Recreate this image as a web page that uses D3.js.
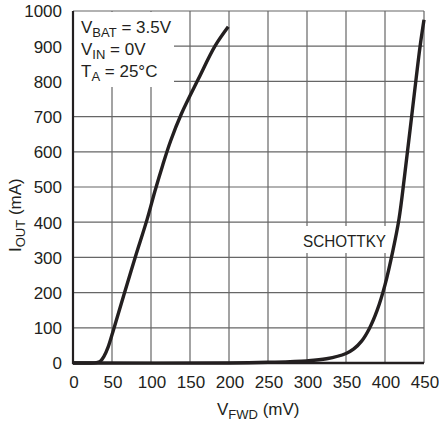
<!DOCTYPE html>
<html><head><meta charset="utf-8">
<script src="https://cdn.jsdelivr.net/npm/d3@7"></script>
<style>body{margin:0;background:#fff}svg{display:block}text{font-family:"Liberation Sans",Arial,sans-serif;fill:#231f20}</style>
</head><body><div id="chart"></div>
<script>
const xTicks = [0,50,100,150,200,250,300,350,400,450];
const yTicks = [0,100,200,300,400,500,600,700,800,900,1000];
// standard curve: [VFWD mV, IOUT mA]
const mainCurve = [[0,0],[20,0],[30,1],[35,5],[40,20],[45,45],[50,80],[55,117],[65,192],[80,302],[95,408],[105,488],[115,562],[125,630],[139,708],[161,808],[182,900],[199,955]];
// schottky curve
const schottky = [[0,0],[200,0],[250,2],[300,6],[325,12],[350,27],[360,40],[370,62],[380,98],[390,150],[400,222],[410,318],[418,410],[425,530],[432,660],[440,810],[445,900],[450,975]];
const condLines = ["V|BAT| = 3.5V","V|IN| = 0V","T|A| = 25°C"];

const W=439,H=425, m={l:73,r:15,t:11,b:62};
const svg=d3.select("#chart").append("svg").attr("width",W).attr("height",H);
const x=d3.scaleLinear().domain([0,450]).range([m.l,W-m.r]);
const y=d3.scaleLinear().domain([0,1000]).range([H-m.b,m.t]);
const fs=17;

// grid
svg.append("g").selectAll("line").data(xTicks).join("line")
  .attr("x1",d=>x(d)).attr("x2",d=>x(d)).attr("y1",y(0)).attr("y2",y(1000))
  .attr("stroke","#666").attr("stroke-width",1.2);
svg.append("g").selectAll("line").data(yTicks).join("line")
  .attr("y1",d=>y(d)).attr("y2",d=>y(d)).attr("x1",x(0)).attr("x2",x(450))
  .attr("stroke","#666").attr("stroke-width",1.2);

// annotation boxes (white)
svg.append("rect").attr("x",x(0)+1).attr("y",y(1000)+1).attr("width",100).attr("height",75).attr("fill","#fff");
svg.append("rect").attr("x",300).attr("y",226).attr("width",90).attr("height",27).attr("fill","#fff");

// axes
svg.append("line").attr("x1",x(0)).attr("x2",x(0)).attr("y1",y(0)+1).attr("y2",y(1000)).attr("stroke","#231f20").attr("stroke-width",2.2);
svg.append("line").attr("x1",x(0)-1).attr("x2",x(450)).attr("y1",y(0)).attr("y2",y(0)).attr("stroke","#231f20").attr("stroke-width",2.6);

// tick labels
svg.append("g").selectAll("text").data(yTicks).join("text")
  .attr("x",x(0)-11).attr("y",d=>y(d)).attr("dy","0.38em").attr("text-anchor","end")
  .attr("font-size",fs).text(d=>d);
svg.append("g").selectAll("text").data(xTicks).join("text")
  .attr("x",d=>x(d)+1).attr("y",y(0)+25).attr("text-anchor","middle")
  .attr("font-size",fs).text(d=>d);

// curves
const line=d3.line().x(d=>x(d[0])).y(d=>y(d[1])).curve(d3.curveCatmullRom.alpha(0.5));
[mainCurve,schottky].forEach(c=>svg.append("path").attr("d",line(c)).attr("fill","none")
  .attr("stroke","#231f20").attr("stroke-width",3.4).attr("stroke-linejoin","round"));

// condition text
condLines.forEach((s,i)=>{
  const p=s.split("|");
  const t=svg.append("text").attr("x",81).attr("y",33+i*21.8).attr("font-size",fs);
  t.append("tspan").text(p[0]);
  t.append("tspan").attr("dy",4).attr("font-size",13).text(p[1]);
  t.append("tspan").attr("dy",-4).text(p[2]);
});

svg.append("text").attr("x",303).attr("y",247).attr("font-size",fs)
  .attr("textLength",83).attr("lengthAdjust","spacingAndGlyphs").text("SCHOTTKY");

// axis titles
const xt=svg.append("text").attr("x",217).attr("y",415).attr("font-size",fs);
xt.append("tspan").text("V");
xt.append("tspan").attr("dy",4).attr("font-size",13).text("FWD");
xt.append("tspan").attr("dy",-4).text(" (mV)");

const yt=svg.append("text").attr("transform","translate(21,252) rotate(-90)").attr("font-size",fs);
yt.append("tspan").text("I");
yt.append("tspan").attr("dy",4).attr("font-size",13).text("OUT");
yt.append("tspan").attr("dy",-4).text(" (mA)");
</script></body></html>
